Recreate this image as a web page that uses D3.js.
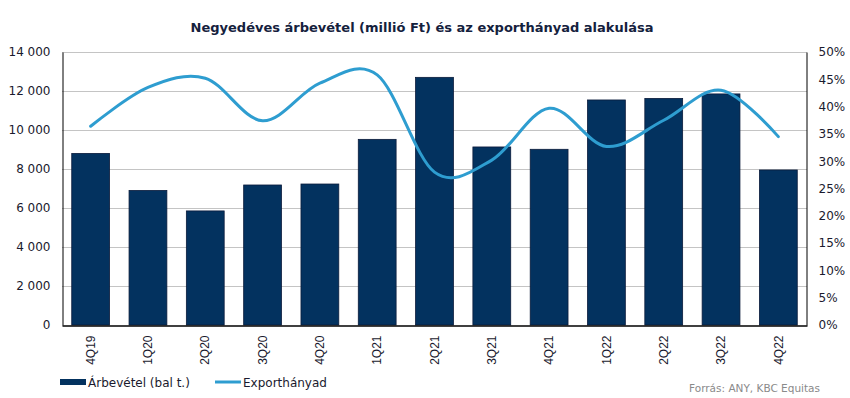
<!DOCTYPE html>
<html>
<head>
<meta charset="utf-8">
<script src="https://cdn.jsdelivr.net/npm/d3@7"></script>
<style>
  body { margin: 0; background: #fff; }
  svg text { font-family: "DejaVu Sans", Verdana, sans-serif; fill: #1a1a2e; }
</style>
</head>
<body>
<div id="container"></div>
<script>
const width = 850;
const height = 398;

const quarters = ["4Q19", "1Q20", "2Q20", "3Q20", "4Q20", "1Q21", "2Q21", "3Q21", "4Q21", "1Q22", "2Q22", "3Q22", "4Q22"];
const revenue = [8800, 6900, 5850, 7180, 7230, 9520, 12700, 9130, 9010, 11540, 11620, 11850, 7950];
const exportShare = [36.4, 43.5, 45.2, 37.4, 44.3, 45.8, 28.0, 30.2, 39.7, 32.7, 37.5, 43.0, 34.5];
const leftTicks = [0, 2000, 4000, 6000, 8000, 10000, 12000, 14000];
const rightTicks = [0, 5, 10, 15, 20, 25, 30, 35, 40, 45, 50];

const barColor = "#03325f";
const lineColor = "#2e9dd0";

const plot = {left: 62, right: 807, top: 52, bottom: 325};

const svg = d3.select("#container")
              .append("svg")
              .attr("width", width)
              .attr("height", height);

const x = d3.scaleBand()
            .domain(quarters)
            .range([plot.left, plot.right])
            .paddingInner(0.34)
            .paddingOuter(0.17);
const yLeft = d3.scaleLinear().domain([0, 14000]).range([plot.bottom, plot.top]);
const yRight = d3.scaleLinear().domain([0, 50]).range([plot.bottom, plot.top]);

// title
svg.append("text")
   .attr("x", 422)
   .attr("y", 32)
   .attr("text-anchor", "middle")
   .style("font-size", "13px")
   .style("font-weight", "bold")
   .style("fill", "#14213d")
   .text("Negyedéves árbevétel (millió Ft) és az exporthányad alakulása");

// gridlines
svg.append("g")
   .selectAll("line")
   .data(leftTicks.slice(1))
   .enter()
   .append("line")
   .attr("x1", plot.left)
   .attr("x2", plot.right)
   .attr("y1", d => yLeft(d) + 0.5)
   .attr("y2", d => yLeft(d) + 0.5)
   .attr("stroke", "#c4c4c4")
   .attr("stroke-width", 1);

// bars
svg.append("g")
   .selectAll("rect")
   .data(revenue)
   .enter()
   .append("rect")
   .attr("x", (d, i) => x(quarters[i]))
   .attr("y", d => yLeft(d))
   .attr("width", x.bandwidth())
   .attr("height", d => plot.bottom - yLeft(d))
   .attr("fill", barColor)
   .attr("stroke", "#0b1b3b")
   .attr("stroke-width", 0.8);

// line (Excel-style smoothing)
const line = d3.line()
               .x((d, i) => x(quarters[i]) + x.bandwidth() / 2)
               .y(d => yRight(d))
               .curve(d3.curveCatmullRom.alpha(0));
svg.append("path")
   .datum(exportShare)
   .attr("d", line)
   .attr("fill", "none")
   .attr("stroke", lineColor)
   .attr("stroke-width", 3)
   .attr("stroke-linecap", "round");

// axes
const leftAxis = d3.axisLeft(yLeft)
                   .tickValues(leftTicks)
                   .tickSize(0)
                   .tickPadding(12)
                   .tickFormat(d => d3.format(",")(d).replace(/,/g, " "));
const gl = svg.append("g").attr("transform", "translate(" + (plot.left + 0.5) + ",0)").call(leftAxis);
gl.select(".domain").attr("stroke", "#000");
gl.selectAll("text").style("font-size", "12px").style("fill", "#1a1a2e");

const rightAxis = d3.axisRight(yRight)
                    .tickValues(rightTicks)
                    .tickSize(0)
                    .tickPadding(12)
                    .tickFormat(d => d + "%");
const gr = svg.append("g").attr("transform", "translate(" + (plot.right - 0.5) + ",0)").call(rightAxis);
gr.select(".domain").attr("stroke", "#000");
gr.selectAll("text").style("font-size", "12px").style("fill", "#1a1a2e");

const bottomAxis = d3.axisBottom(x).tickSize(0).tickPadding(0);
const gb = svg.append("g").attr("transform", "translate(0," + (plot.bottom + 0.5) + ")").call(bottomAxis);
gb.select(".domain").attr("stroke", "#000").attr("stroke-width", 1.3);
gb.selectAll("text")
  .attr("transform", "rotate(-90)")
  .attr("x", -10)
  .attr("y", 0)
  .attr("dy", "0.35em")
  .attr("text-anchor", "end")
  .style("font-family", "'Liberation Sans', Arial, sans-serif")
  .style("font-size", "12px")
  .style("fill", "#1a1a2e");

// legend
const legend = svg.append("g").attr("transform", "translate(60,382)");
legend.append("rect")
      .attr("x", 0)
      .attr("y", -3)
      .attr("width", 26)
      .attr("height", 6)
      .attr("fill", barColor);
legend.append("text")
      .attr("x", 28)
      .attr("y", 4.5)
      .style("font-size", "12px")
      .text("Árbevétel (bal t.)");
legend.append("line")
      .attr("x1", 155)
      .attr("x2", 181)
      .attr("y1", 0)
      .attr("y2", 0)
      .attr("stroke", lineColor)
      .attr("stroke-width", 3);
legend.append("text")
      .attr("x", 183)
      .attr("y", 4.5)
      .style("font-size", "12px")
      .text("Exporthányad");

// source
svg.append("text")
   .attr("x", 820)
   .attr("y", 392)
   .attr("text-anchor", "end")
   .style("font-size", "10.5px")
   .style("fill", "#8a8a8a")
   .text("Forrás: ANY, KBC Equitas");
</script>
</body>
</html>
